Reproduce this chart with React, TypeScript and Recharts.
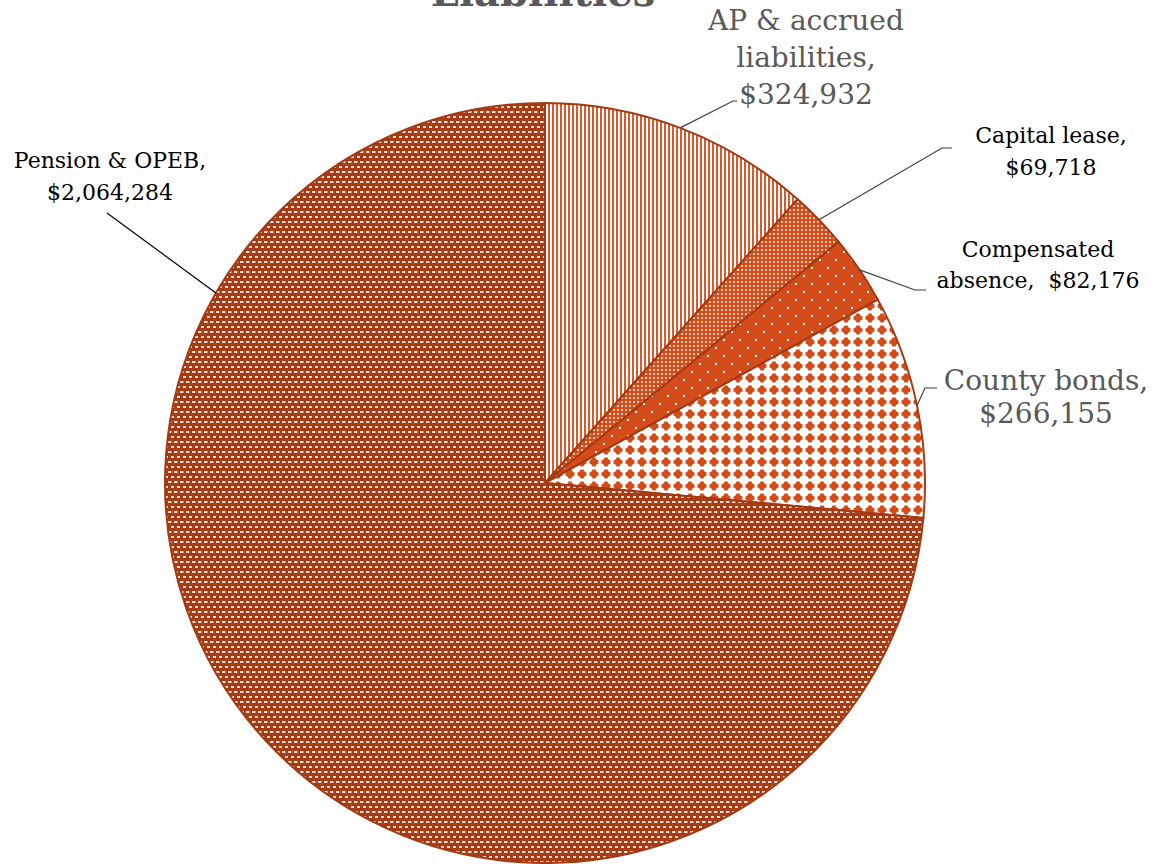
import { PieChart, Pie, Cell } from "recharts"

// liabilities, clockwise from 12 o'clock
const categories = [
  "AP & accrued liabilities",
  "Capital lease",
  "Compensated absence",
  "County bonds",
  "Pension & OPEB",
]
const amounts = [324932, 69718, 82176, 266155, 2064284]

// how each label wraps (value goes on the last line or its own line)
const labelLines = [
  ["AP & accrued", "liabilities,"],
  ["Capital lease,"],
  ["Compensated"],
  ["County bonds,"],
  ["Pension & OPEB,"],
]
const valueOnOwnLine = [true, true, false, true, true]

const STROKE = "#A33A12"
const ORANGE = "#D34C1A"
const GRAY = "#595959"

const patternIds = ["pat-vert", "pat-grid", "pat-dots", "pat-plus", "pat-brick"]

// label placement (layout only)
const labelLayout = [
  { x: 806, y: 20, lh: 37, size: 28, color: GRAY, elbow: [733, 101], end: [737, 101] },
  { x: 1051, y: 135, lh: 32, size: 22, color: "#000", elbow: [942, 148], end: [952, 148] },
  { x: 1038, y: 249, lh: 31, size: 22, color: "#000", elbow: [915, 290], end: [926, 290] },
  { x: 1046, y: 380, lh: 33, size: 28, color: GRAY, elbow: [925, 388], end: [937, 388] },
  { x: 110, y: 160, lh: 32, size: 22, color: "#000", elbow: [107, 213], end: [107, 213], angle: 150 },
]

const data = categories.map((name, i) => ({ name, value: amounts[i] }))

const fmt = (v: number) => "$" + v.toLocaleString("en-US")

const RADIAN = Math.PI / 180

function renderLabel(props: any) {
  const { cx, cy, midAngle, outerRadius, index, value } = props
  const lay = labelLayout[index]
  const ang = lay.angle ?? midAngle
  const sx = cx + outerRadius * Math.cos(-ang * RADIAN)
  const sy = cy + outerRadius * Math.sin(-ang * RADIAN)
  const lines = [...labelLines[index]]
  if (valueOnOwnLine[index]) lines.push(fmt(value))
  else lines.push("absence,\u00a0 " + fmt(value))
  return (
    <g key={`lbl-${index}`}>
      <polyline
        points={`${sx},${sy} ${lay.elbow[0]},${lay.elbow[1]} ${lay.end[0]},${lay.end[1]}`}
        fill="none"
        stroke={index === 4 ? "#000" : "#404040"}
        strokeWidth={1.2}
      />
      <text
        x={lay.x}
        y={lay.y}
        textAnchor="middle"
        fill={lay.color}
        fontSize={lay.size}
        fontFamily="DejaVu Serif"
      >
        {lines.map((t, k) => (
          <tspan key={k} x={lay.x} y={lay.y + k * lay.lh} dominantBaseline="central">
            {t}
          </tspan>
        ))}
      </text>
    </g>
  )
}

function Patterns() {
  return (
    <svg width={0} height={0} style={{ position: "absolute" }}>
      <defs>
        <pattern id="pat-vert" width={4} height={4} patternUnits="userSpaceOnUse">
          <rect width={4} height={4} fill="#fff" />
          <rect x={0} width={2} height={4} fill="#DA5A2C" />
        </pattern>
        <pattern id="pat-grid" width={4} height={4} patternUnits="userSpaceOnUse">
          <rect width={4} height={4} fill={ORANGE} />
          <rect x={1} y={1} width={2} height={2} fill="#F6C9B5" />
        </pattern>
        <pattern id="pat-dots" width={16} height={16} patternUnits="userSpaceOnUse">
          <rect width={16} height={16} fill={ORANGE} />
          <rect x={3} y={3} width={2} height={2} fill="#fff" />
          <rect x={11} y={11} width={2} height={2} fill="#fff" />
        </pattern>
        <pattern id="pat-plus" width={12} height={12} patternUnits="userSpaceOnUse">
          <rect width={12} height={12} fill="#fff" />
          <path
            d="M4.5,1.5 H7.5 L8.5,3.5 L10.5,4.5 V7.5 L8.5,8.5 L7.5,10.5 H4.5 L3.5,8.5 L1.5,7.5 V4.5 L3.5,3.5 Z"
            fill={ORANGE}
          />
        </pattern>
        <pattern id="pat-brick" width={6} height={10} patternUnits="userSpaceOnUse">
          <rect width={6} height={10} fill="#A63C15" />
          <rect x={0} y={1} width={3.5} height={2} fill="#F4DCD2" />
          <rect x={3} y={6} width={3.5} height={2} fill="#F4DCD2" />
        </pattern>
      </defs>
    </svg>
  )
}

export default function App() {
  return (
    <div style={{ position: "absolute", left: 0, top: 0, width: 1154, height: 864, background: "#fff" }}>
      <Patterns />
      <PieChart width={1154} height={864}>
        <text
          x={543}
          y={6}
          textAnchor="middle"
          fill={GRAY}
          fontSize={40}
          fontWeight="bold"
          fontFamily="DejaVu Serif"
        >
          Liabilities
        </text>
        <Pie
          data={data}
          dataKey="value"
          nameKey="name"
          cx={540}
          cy={478}
          outerRadius={380}
          startAngle={90}
          endAngle={-270}
          stroke={STROKE}
          strokeWidth={2}
          label={renderLabel}
          labelLine={false}
          isAnimationActive={false}
        >
          {data.map((d, i) => (
            <Cell key={d.name} fill={`url(#${patternIds[i]})`} />
          ))}
        </Pie>
      </PieChart>
    </div>
  )
}
